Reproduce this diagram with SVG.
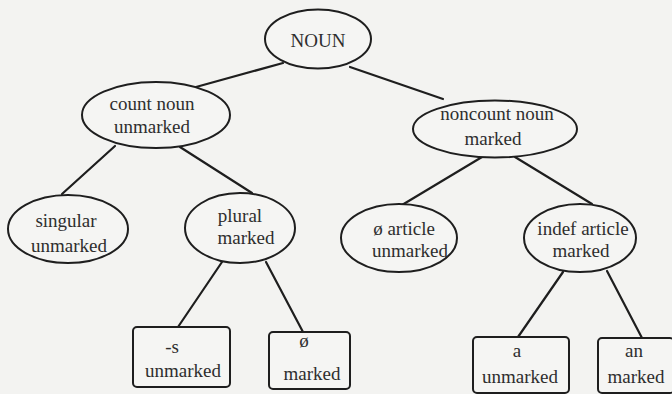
<svg xmlns="http://www.w3.org/2000/svg" width="672" height="394" viewBox="0 0 672 394">
<style>
.bg{fill:#f3f3f1}
.n ellipse,.n rect{fill:#f5f5f3;stroke:#1e1e1e;stroke-width:2}
.n text{font-family:'Liberation Serif','DejaVu Serif',serif;font-size:19px;fill:#2e2e2e;text-anchor:middle}
#edges line{stroke:#1e1e1e;stroke-width:2.2;stroke-linecap:round}
</style>
<rect class="bg" x="0" y="0" width="672" height="394"/>
<g id="edges">
<line x1="283" y1="63" x2="196" y2="87"/>
<line x1="350" y1="67" x2="443" y2="99"/>
<line x1="115" y1="146" x2="62" y2="194"/>
<line x1="180" y1="147" x2="252" y2="193"/>
<line x1="482" y1="157" x2="402" y2="205"/>
<line x1="515" y1="157" x2="592" y2="204"/>
<line x1="222" y1="262" x2="178" y2="327"/>
<line x1="266" y1="262" x2="303" y2="332"/>
<line x1="563" y1="272" x2="518" y2="337"/>
<line x1="607" y1="271" x2="642" y2="338"/>
</g>
<g id="noun" class="n">
<ellipse cx="318" cy="39" rx="53" ry="29.5"/>
<text x="318" y="47" font-family="Liberation Serif, serif">NOUN</text>
</g>
<g id="count" class="n">
<ellipse cx="156" cy="115" rx="74" ry="33"/>
<text x="152" y="110">count noun</text>
<text x="152" y="133">unmarked</text>
</g>
<g id="noncount" class="n">
<ellipse cx="495" cy="129" rx="82" ry="28.5"/>
<text x="497" y="120">noncount noun</text>
<text x="493" y="145">marked</text>
</g>
<g id="singular" class="n">
<ellipse cx="68" cy="229" rx="60" ry="34"/>
<text x="66" y="227">singular</text>
<text x="69" y="252">unmarked</text>
</g>
<g id="plural" class="n">
<ellipse cx="240" cy="228" rx="55" ry="35"/>
<text x="240" y="222">plural</text>
<text x="246" y="244">marked</text>
</g>
<g id="zeroarticle" class="n">
<ellipse cx="399" cy="238" rx="58" ry="34"/>
<text x="404" y="235">ø article</text>
<text x="410" y="257">unmarked</text>
</g>
<g id="indef" class="n">
<ellipse cx="580" cy="238" rx="56" ry="34"/>
<text x="583" y="235">indef article</text>
<text x="581" y="257">marked</text>
</g>
<g id="s" class="n">
<rect x="133" y="327" width="97" height="60" rx="4"/>
<text x="172" y="353">-s</text>
<text x="183" y="377">unmarked</text>
</g>
<g id="zero" class="n">
<rect x="269" y="332" width="81" height="57" rx="4"/>
<text x="304" y="347">ø</text>
<text x="312" y="380">marked</text>
</g>
<g id="a" class="n">
<rect x="473" y="337" width="96" height="56" rx="4"/>
<text x="517" y="357">a</text>
<text x="520" y="383">unmarked</text>
</g>
<g id="an" class="n">
<rect x="598" y="338" width="76" height="55" rx="4"/>
<text x="634" y="357">an</text>
<text x="636" y="383">marked</text>
</g>
</svg>
